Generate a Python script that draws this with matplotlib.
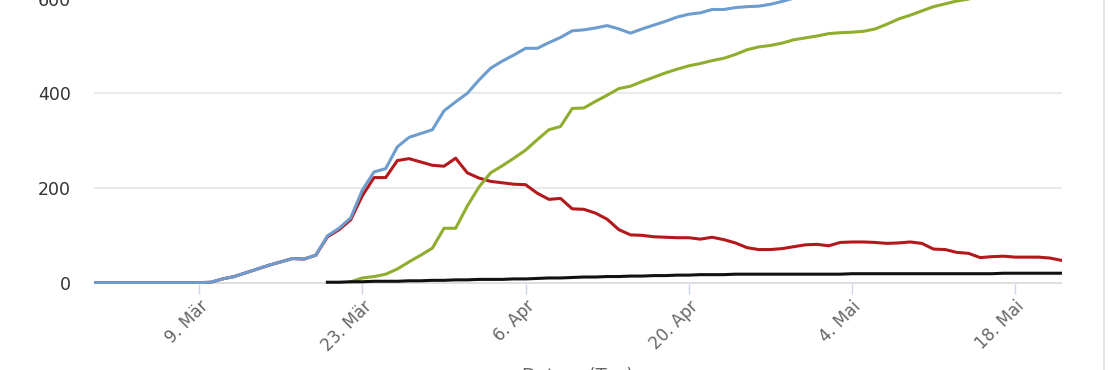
import numpy as np
import pandas as pd
import matplotlib
matplotlib.use("Agg")
import matplotlib.pyplot as plt
from matplotlib.lines import Line2D

# ---------------- data ----------------
start_date = "2020-02-29"
n_days = 84
dates = pd.date_range(start_date, periods=n_days, freq="D")

total_cases = [0, 0, 0, 0, 0, 0, 0, 0, 0, 0,
               1, 8, 13, 21, 29, 37, 44, 51, 50, 58,
               99, 115, 137, 196, 234, 241, 287, 307, 315, 323,
               363, 382, 400, 428, 453, 468, 481, 495, 495, 507,
               518, 532, 534, 538, 543, 536, 527, 536, 544, 552,
               561, 567, 570, 577, 577, 581, 583, 584, 588, 594,
               601, 612, 620, 624, 631, 634, 637, 641, 648, 660,
               670, 675, 673, 680, 681, 681, 678, 680, 683, 685,
               688, 692, 694, 695]

active_cases = [0, 0, 0, 0, 0, 0, 0, 0, 0, 0,
                1, 8, 13, 21, 29, 37, 44, 51, 50, 58,
                97, 112, 133, 184, 222, 222, 258, 262, 255, 248,
                246, 263, 232, 221, 214, 211, 208, 207, 189, 176,
                178, 156, 155, 147, 134, 112, 101, 100, 97, 96,
                95, 95, 92, 96, 91, 84, 74, 70, 70, 72,
                76, 80, 81, 78, 85, 86, 86, 85, 83, 84,
                86, 83, 71, 70, 64, 62, 53, 55, 56, 54,
                54, 54, 52, 47]

recovered = [None] * 22 + [
    2, 10, 13, 18, 29, 44, 58, 73,
    115, 115, 162, 202, 232, 247, 263, 280, 302, 323,
    330, 368, 369, 383, 396, 410, 415, 425, 434, 443,
    451, 458, 463, 469, 474, 482, 492, 498, 501, 506,
    513, 517, 521, 526, 528, 529, 531, 536, 546, 557,
    565, 574, 583, 589, 595, 599, 606, 611, 615, 619,
    622, 626, 629, 631]

deaths = [None] * 20 + [
    1, 1, 2, 2, 3, 3, 3, 4, 4, 5,
    5, 6, 6, 7, 7, 7, 8, 8, 9, 10,
    10, 11, 12, 12, 13, 13, 14, 14, 15, 15,
    16, 16, 17, 17, 17, 18, 18, 18, 18, 18,
    18, 18, 18, 18, 18, 19, 19, 19, 19, 19,
    19, 19, 19, 19, 19, 19, 19, 19, 20, 20,
    20, 20, 20, 20]

tick_dates = ["2020-03-09", "2020-03-23", "2020-04-06",
              "2020-04-20", "2020-05-04", "2020-05-18"]
tick_labels = ["9. Mär", "23. Mär", "6. Apr", "20. Apr", "4. Mai", "18. Mai"]
y_ticks = [0, 200, 400, 600]
x_title = "Datum (Tag)"

# ---------------- figure ----------------
W, H = 1110, 370
fig = plt.figure(figsize=(W / 100, H / 100), dpi=100)
fig.patch.set_facecolor("white")

x_left_px, x_right_px = 94.3, 1061.8
zero_px, px_per_unit = 282.7, 0.4735
ymin, ymax = -3, 620
ax_bottom_px = zero_px + (-ymin) * px_per_unit
ax_h_px = (ymax - ymin) * px_per_unit
ax = fig.add_axes([x_left_px / W, (H - ax_bottom_px) / H,
                   (x_right_px - x_left_px) / W, ax_h_px / H])

def to_float(v):
    return np.array([np.nan if x is None else x for x in v], dtype=float)

ax.plot(dates, to_float(active_cases), color="#b3191c", lw=2.2, zorder=3)
ax.plot(dates, to_float(total_cases), color="#6d9dcf", lw=2.2, zorder=4)
ax.plot(dates, to_float(recovered), color="#8fae2e", lw=2.2, zorder=5)
ax.plot(dates, to_float(deaths), color="#111111", lw=2.2, zorder=6)

ax.set_xlim(dates[0], dates[-1])
ax.set_ylim(ymin, ymax)

for s in ax.spines.values():
    s.set_visible(False)

ax.set_yticks(y_ticks)
ax.set_yticklabels([str(v) for v in y_ticks])
for v in y_ticks:
    ax.axhline(v, color="#d9d9d9" if v == 0 else "#e6e6e6", lw=1.2, zorder=1)
ax.tick_params(axis="y", length=0, pad=17, labelsize=12.5, labelcolor="#333333")

ax.set_xticks(pd.to_datetime(tick_dates))
ax.set_xticklabels(tick_labels)
ax.tick_params(axis="x", length=7.5, width=1, color="#ccd6eb", pad=2,
               labelsize=12, labelcolor="#666666")
for lab in ax.get_xticklabels():
    lab.set_rotation(45)
    lab.set_ha("right")
    lab.set_va("top")
    lab.set_rotation_mode("anchor")

fig.text((x_left_px + x_right_px) / 2 / W, (H - 367) / H, x_title,
         ha="center", va="top", fontsize=13, color="#666666")

fig.add_artist(Line2D([1104 / W, 1104 / W], [0, 1], transform=fig.transFigure,
                      color="#e3e3e3", lw=1.5))

fig.savefig("out.png", dpi=100, facecolor="white")
